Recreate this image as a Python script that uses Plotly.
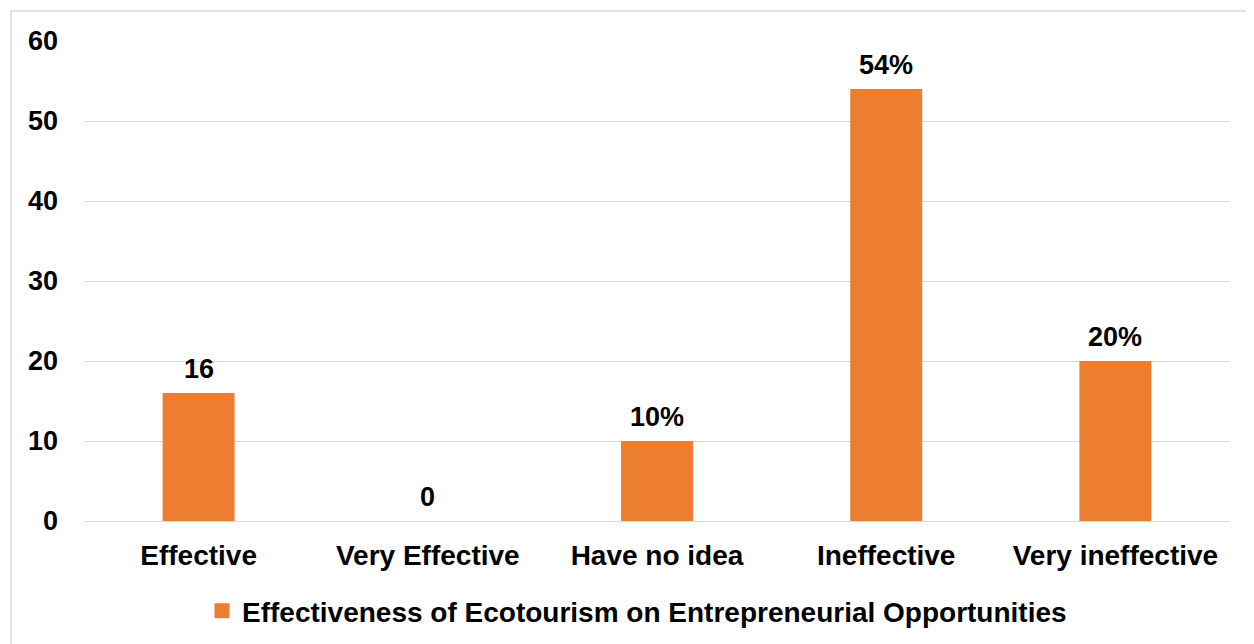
import plotly.graph_objects as go

categories = ["Effective", "Very Effective", "Have no idea", "Ineffective", "Very ineffective"]
values = [16, 0, 10, 54, 20]
value_labels = ["16", "0", "10%", "54%", "20%"]
series_name = "Effectiveness of Ecotourism on Entrepreneurial Opportunities"
y_ticks = [0, 10, 20, 30, 40, 50, 60]

OFF = 8  # page body margin
W, H = 1254, 644
L = 84 - OFF
T = 41 - OFF
pw = 1230 - 84
ph = 521 - 41
R = W - L - pw
B = H - T - ph

def px_x(p):
    return (p - OFF - L) / pw

def px_y(p):
    return (T + ph - (p - OFF)) / ph

font = "Liberation Sans, Arial, sans-serif"
bfont = lambda s: dict(family=font, size=s, color="black", weight="bold")
orange = "#ED7D31"

fig = go.Figure()
fig.add_trace(go.Bar(
    x=categories, y=values, name=series_name,
    marker=dict(color=orange, line=dict(width=0)),
    cliponaxis=False, showlegend=False,
))
fig.add_trace(go.Scatter(
    x=[None], y=[None], mode="markers", name=series_name,
    marker=dict(symbol="square", size=15, color=orange), showlegend=True,
))

annotations = [
    dict(x=c, y=v, xref="x", yref="y", text=t, showarrow=False,
         yanchor="bottom", yshift=7, font=bfont(27))
    for c, v, t in zip(categories, values, value_labels)
]

fig.update_layout(
    width=W, height=H,
    margin=dict(l=L, r=R, t=T, b=B),
    paper_bgcolor="white", plot_bgcolor="white",
    bargap=0.686,
    font=bfont(27),
    showlegend=True,
    legend=dict(orientation="h", x=px_x(637), xanchor="center", y=px_y(611), yanchor="middle",
                font=bfont(28), itemwidth=30, itemsizing="trace"),
    xaxis=dict(showgrid=False, showline=False, ticks="", ticklabelstandoff=15,
               tickfont=bfont(28)),
    yaxis=dict(range=[0, 60], tickvals=y_ticks, showgrid=True, gridcolor="#D9D9D9", gridwidth=1.3,
               zeroline=True, zerolinecolor="#D9D9D9", zerolinewidth=1.3,
               showline=False, ticks="", ticklabelstandoff=25,
               tickfont=bfont(27)),
    annotations=annotations,
    shapes=[dict(type="rect", xref="paper", yref="paper",
                 x0=px_x(11), x1=px_x(1270), y0=px_y(660), y1=px_y(11),
                 line=dict(color="#D9D9D9", width=1.5), fillcolor="rgba(0,0,0,0)", layer="below")],
)

fig.write_html("out.html")
